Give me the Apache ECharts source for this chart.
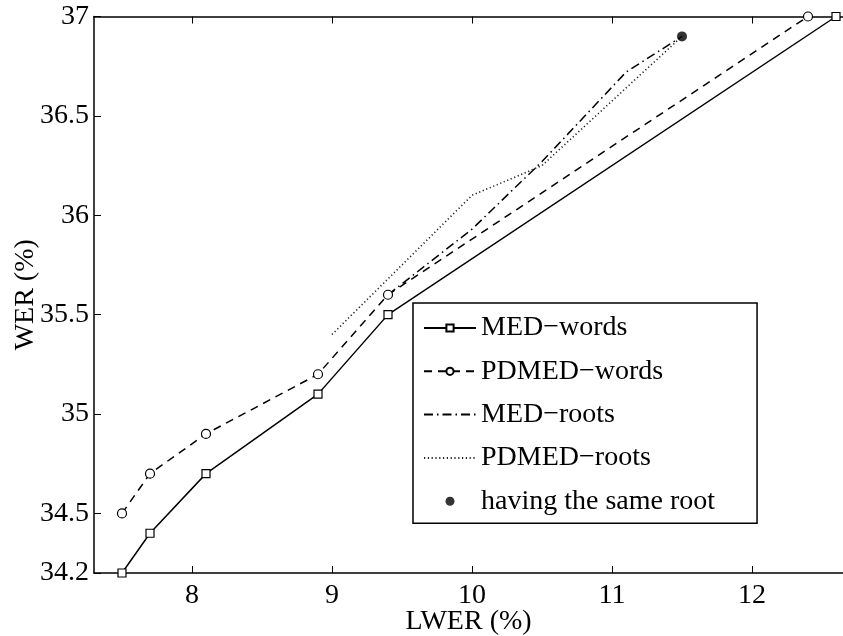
<!DOCTYPE html>
<html><head><meta charset="utf-8">
<script src="https://cdn.jsdelivr.net/npm/echarts@6/dist/echarts.min.js"></script>
<style>html,body{margin:0;padding:0;background:#fff}#chart{width:843px;height:636px}</style>
</head><body><div id="chart"></div>
<script>
// Word error rate against lemma word error rate for the four decoding variants
const medWordsX = [7.5, 7.7, 8.1, 8.9, 9.4, 12.6];
const medWordsY = [34.2, 34.4, 34.7, 35.1, 35.5, 37.0];
const pdmedWordsX = [7.5, 7.7, 8.1, 8.9, 9.4, 12.4];
const pdmedWordsY = [34.5, 34.7, 34.9, 35.2, 35.6, 37.0];
const medRootsX = [9.4, 10.0, 10.5, 11.1, 11.5];
const medRootsY = [35.6, 35.93, 36.27, 36.72, 36.9];
const pdmedRootsX = [9.0, 10.0, 10.5, 11.5];
const pdmedRootsY = [35.4, 36.1, 36.25, 36.9];
const sameRootX = [11.5];
const sameRootY = [36.9];
const seriesNames = ['MED\u2212words', 'PDMED\u2212words', 'MED\u2212roots', 'PDMED\u2212roots', 'having the same root'];
const xTicks = [8, 9, 10, 11, 12];
const yTicks = [34.2, 34.5, 35, 35.5, 36, 36.5, 37];

const pairs = (xs, ys) => xs.map((x, i) => [x, ys[i]]);
const FONT = '"Liberation Serif", "Times New Roman", serif';
const INK = '#000';

const chart = echarts.init(document.getElementById('chart'), null, { renderer: 'canvas' });

const xRange = { min: 7.3, max: 12.65 };

chart.setOption({
  backgroundColor: '#fff',
  animation: false,
  grid: { left: 94, top: 16.5, right: 0, bottom: 63, containLabel: false, outerBoundsMode: 'none' },
  xAxis: [
    {
      type: 'value', position: 'bottom', min: xRange.min, max: xRange.max,
      name: 'LWER (%)', nameLocation: 'middle', nameGap: 35, nameMoveOverlap: false,
      nameTextStyle: { fontFamily: FONT, fontSize: 28, color: INK },
      axisLine: { show: true, onZero: false, lineStyle: { color: INK, width: 1.5 } },
      axisTick: { show: true, inside: true, length: 7, customValues: xTicks, lineStyle: { color: INK, width: 1 } },
      axisLabel: { customValues: xTicks, margin: 9, fontFamily: FONT, fontSize: 28, color: INK },
      splitLine: { show: false }
    },
    {
      type: 'value', position: 'top', min: xRange.min, max: xRange.max,
      axisLine: { show: true, onZero: false, lineStyle: { color: INK, width: 1.5 } },
      axisTick: { show: true, inside: true, length: 7, customValues: xTicks, lineStyle: { color: INK, width: 1 } },
      axisLabel: { show: false },
      splitLine: { show: false }
    }
  ],
  yAxis: {
    type: 'value', min: 34.2, max: 37,
    name: 'WER (%)', nameLocation: 'middle', nameGap: 54, nameMoveOverlap: false,
    nameTextStyle: { fontFamily: FONT, fontSize: 28, color: INK },
    axisLine: { show: true, onZero: false, lineStyle: { color: INK, width: 1.5 } },
    axisTick: { show: true, inside: true, length: 7, customValues: yTicks, lineStyle: { color: INK, width: 1 } },
    axisLabel: { customValues: yTicks, margin: 5, fontFamily: FONT, fontSize: 28, color: INK },
    splitLine: { show: false }
  },
  legend: {
    orient: 'vertical', left: 413, top: 303,
    padding: [10, 42, 7, 10],
    itemWidth: 52, itemHeight: 9, itemGap: 13.3,
    backgroundColor: '#fff', borderColor: INK, borderWidth: 1.5, borderRadius: 0,
    selectedMode: false,
    textStyle: { fontFamily: FONT, fontSize: 28, color: INK, lineHeight: 30 },
    data: [
      { name: seriesNames[0] },
      { name: seriesNames[1] },
      { name: seriesNames[2], itemStyle: { opacity: 0 } },
      { name: seriesNames[3], itemStyle: { opacity: 0 } },
      { name: seriesNames[4] }
    ]
  },
  series: [
    {
      name: seriesNames[0], type: 'line', data: pairs(medWordsX, medWordsY),
      symbol: 'rect', symbolSize: 8,
      lineStyle: { color: INK, width: 1.5, type: 'solid' },
      itemStyle: { color: '#fff', borderColor: INK, borderWidth: 1.2 },
      z: 3
    },
    {
      name: seriesNames[1], type: 'line', data: pairs(pdmedWordsX, pdmedWordsY),
      symbol: 'circle', symbolSize: 9,
      lineStyle: { color: INK, width: 1.5, type: [8, 6] },
      itemStyle: { color: '#fff', borderColor: INK, borderWidth: 1.2 },
      z: 3
    },
    {
      name: seriesNames[2], type: 'line', data: pairs(medRootsX, medRootsY),
      symbol: 'circle', showSymbol: false,
      lineStyle: { color: INK, width: 1.5, type: [9, 4, 1.5, 4] },
      itemStyle: { color: INK },
      z: 2
    },
    {
      name: seriesNames[3], type: 'line', data: pairs(pdmedRootsX, pdmedRootsY),
      symbol: 'circle', showSymbol: false,
      lineStyle: { color: '#222', width: 1.6, type: [1.2, 2.6] },
      itemStyle: { color: '#222' },
      z: 2
    },
    {
      name: seriesNames[4], type: 'scatter', data: pairs(sameRootX, sameRootY),
      symbol: 'circle', symbolSize: 10,
      itemStyle: { color: INK },
      z: 4
    }
  ]
});
</script>
</body></html>
